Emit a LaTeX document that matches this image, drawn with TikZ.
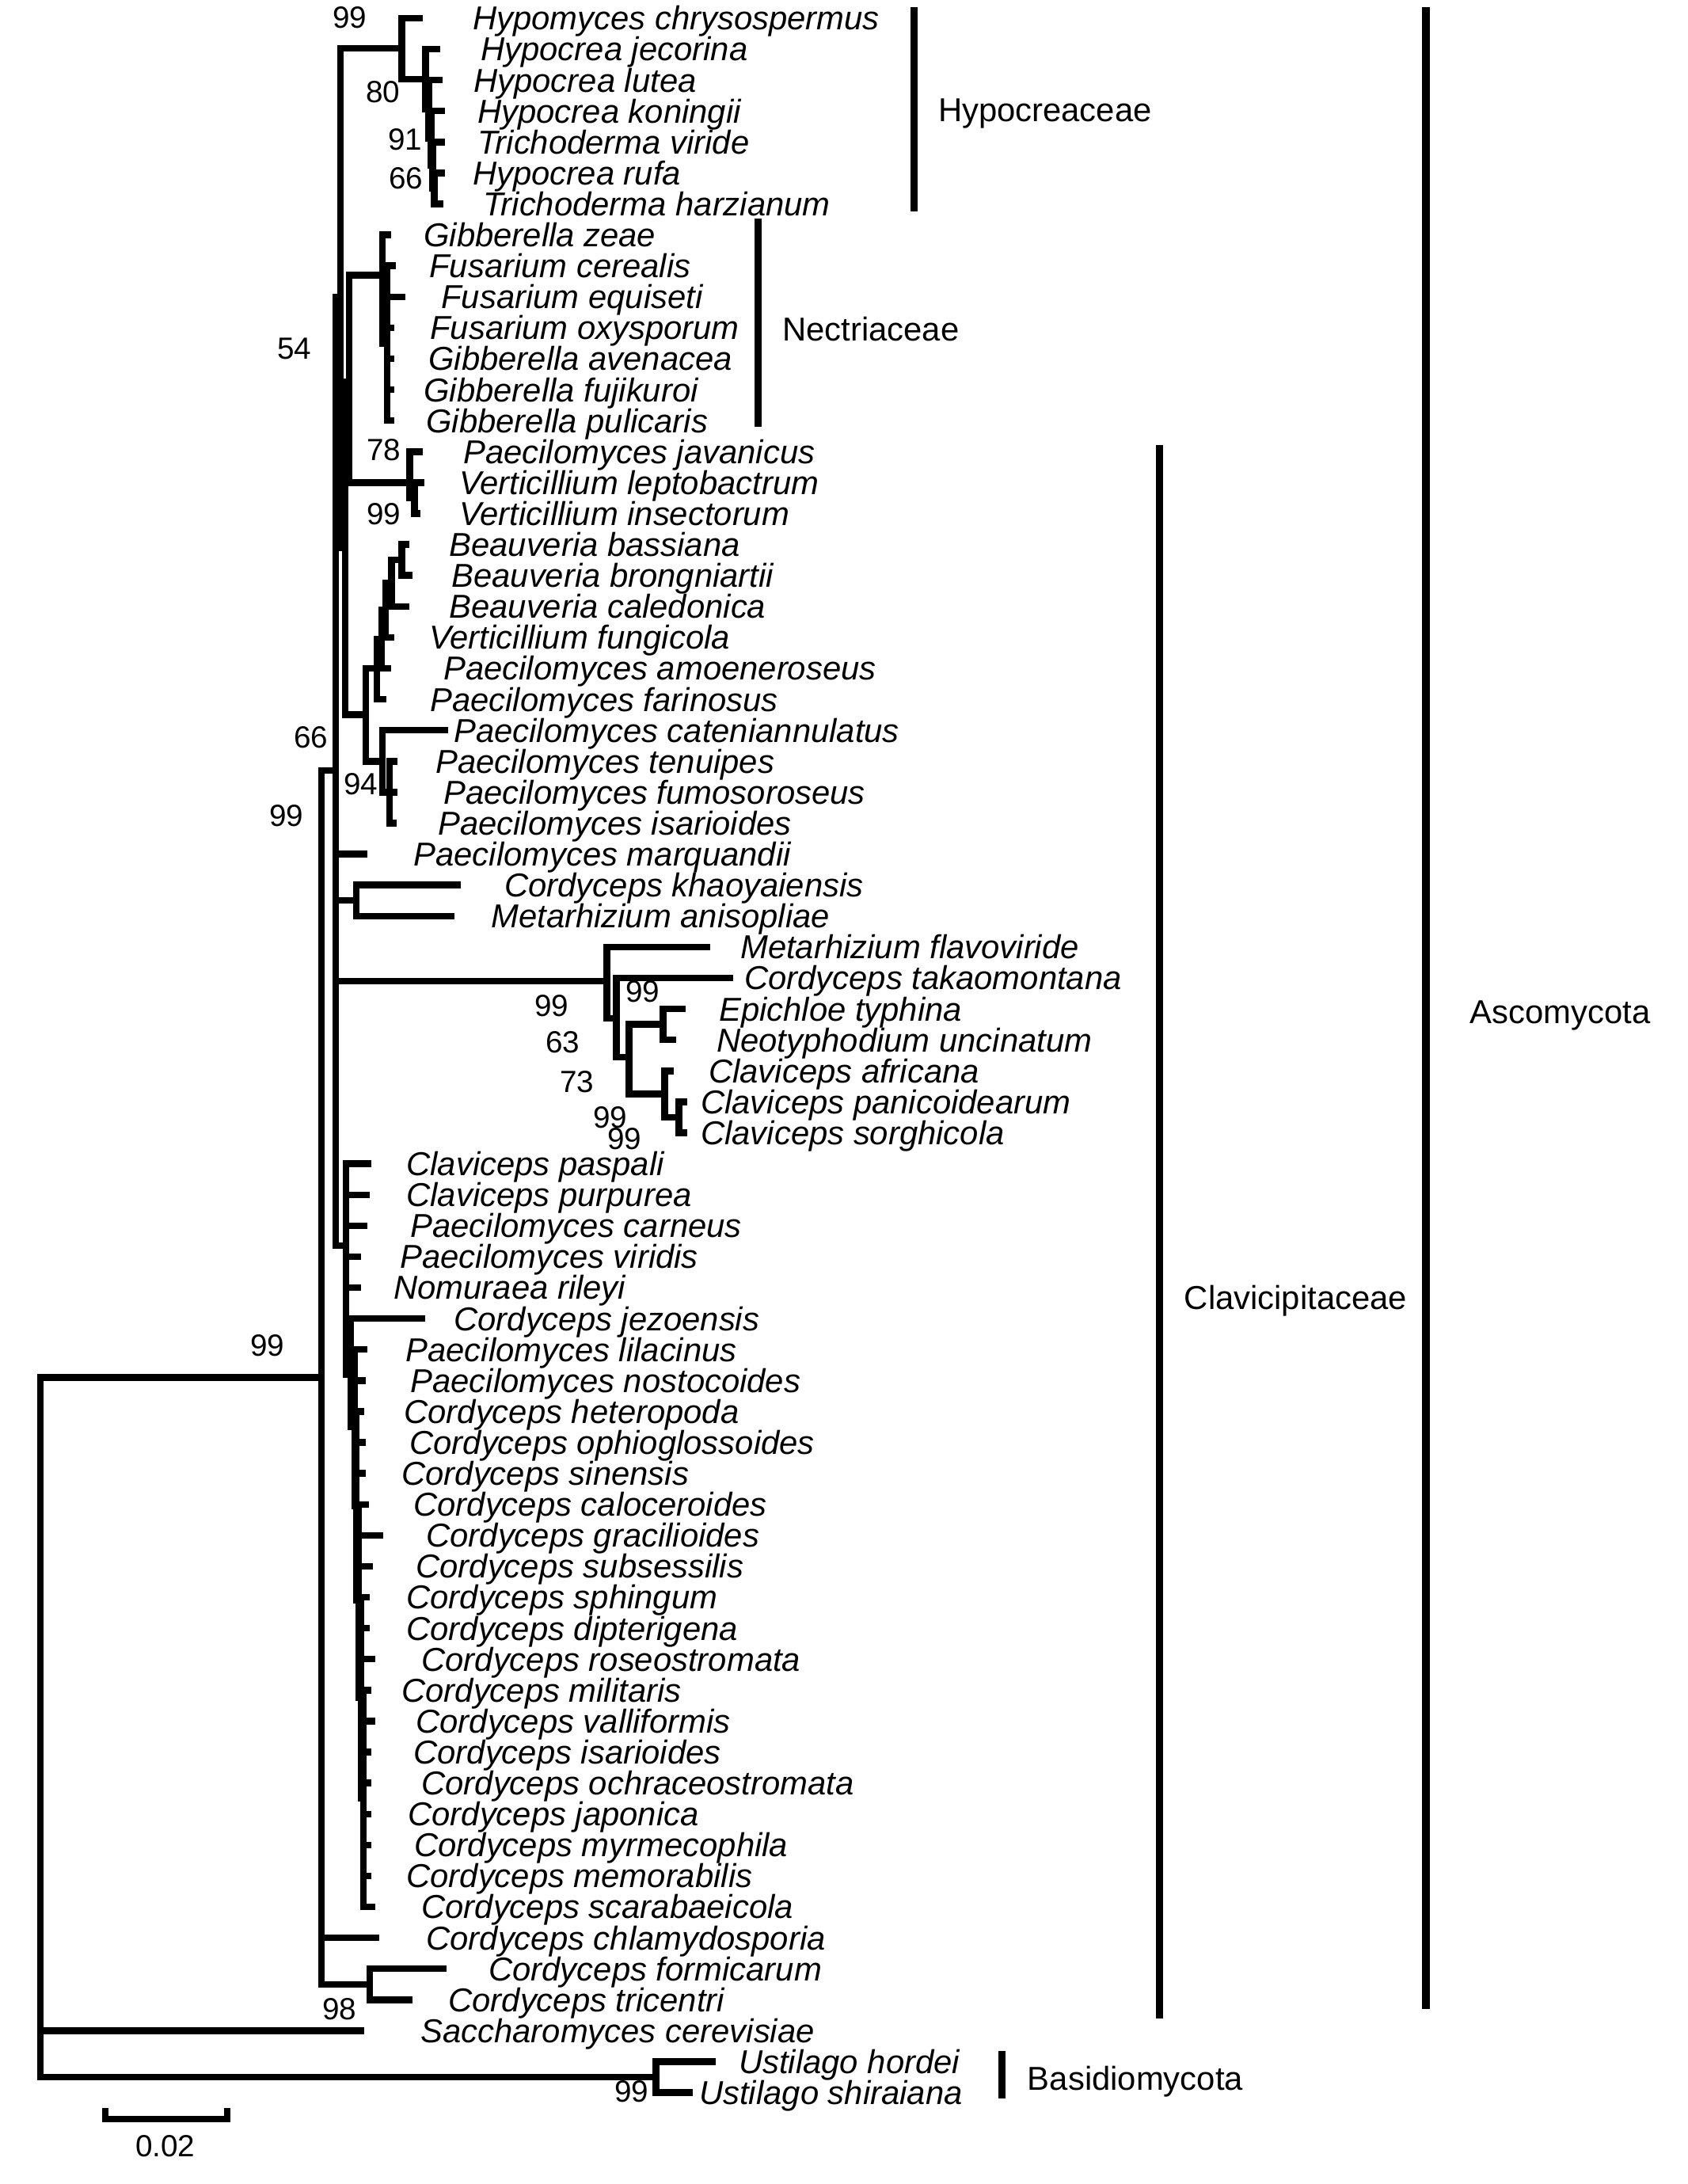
\documentclass[tikz,border=0pt]{standalone}
\usepackage{fontspec}
\setmainfont{Liberation Sans}
\begin{document}
\begin{tikzpicture}[x=0.01cm,y=-0.391cm,
 br/.style={line width=2.4pt, line cap=rect, line join=miter},
 grpbar/.style={line width=2.6pt},
 tx/.style={anchor=west, inner sep=0pt, font=\fontsize{11.9}{13}\selectfont\itshape, text height=8.5pt, text depth=0pt},
 bs/.style={inner sep=0pt, font=\fontsize{11}{13}\selectfont},
 grp/.style={anchor=west, inner sep=0pt, font=\fontsize{11.9}{13}\selectfont, text height=8.5pt, text depth=0pt}]
\fill[white] (0,0.4143) rectangle (2133,70.951);
\useasboundingbox (0,0.4143) rectangle (2133,70.951);

% taxon labels
\foreach \i/\x/\nm in {
1/597/Hypomyces chrysospermus, 2/607/Hypocrea jecorina, 3/598/Hypocrea lutea,
4/603/Hypocrea koningii, 5/603/Trichoderma viride, 6/597/Hypocrea rufa,
7/610/Trichoderma harzianum, 8/535/Gibberella zeae, 9/542/Fusarium cerealis,
10/557/Fusarium equiseti, 11/543/Fusarium oxysporum, 12/541/Gibberella avenacea,
13/535/Gibberella fujikuroi, 14/538/Gibberella pulicaris, 15/585/Paecilomyces javanicus,
16/580/Verticillium leptobactrum, 17/580/Verticillium insectorum, 18/567/Beauveria bassiana,
19/570/Beauveria brongniartii, 20/567/Beauveria caledonica, 21/542/Verticillium fungicola,
22/560/Paecilomyces amoeneroseus, 23/543/Paecilomyces farinosus, 24/573/Paecilomyces cateniannulatus,
25/550/Paecilomyces tenuipes, 26/560/Paecilomyces fumosoroseus, 27/553/Paecilomyces isarioides,
28/522/Paecilomyces marquandii, 29/637/Cordyceps khaoyaiensis, 30/620/Metarhizium anisopliae,
31/935/Metarhizium flavoviride, 32/940/Cordyceps takaomontana, 33/908/Epichloe typhina,
34/905/Neotyphodium uncinatum, 35/895/Claviceps africana, 36/885/Claviceps panicoidearum,
37/885/Claviceps sorghicola, 38/513/Claviceps paspali, 39/513/Claviceps purpurea,
40/518/Paecilomyces carneus, 41/505/Paecilomyces viridis, 42/497/Nomuraea rileyi,
43/573/Cordyceps jezoensis, 44/512/Paecilomyces lilacinus, 45/518/Paecilomyces nostocoides,
46/510/Cordyceps heteropoda, 47/517/Cordyceps ophioglossoides, 48/507/Cordyceps sinensis,
49/522/Cordyceps caloceroides, 50/538/Cordyceps gracilioides, 51/525/Cordyceps subsessilis,
52/513/Cordyceps sphingum, 53/513/Cordyceps dipterigena, 54/532/Cordyceps roseostromata,
55/507/Cordyceps militaris, 56/525/Cordyceps valliformis, 57/522/Cordyceps isarioides,
58/532/Cordyceps ochraceostromata, 59/515/Cordyceps japonica, 60/523/Cordyceps myrmecophila,
61/513/Cordyceps memorabilis, 62/532/Cordyceps scarabaeicola, 63/538/Cordyceps chlamydosporia,
64/617/Cordyceps formicarum, 65/566/Cordyceps tricentri, 66/531/Saccharomyces cerevisiae,
67/933/Ustilago hordei, 68/883/Ustilago shiraiana}
  \node[tx] (n\i) at (\x,\i) {\nm};

% tips
\foreach \i/\x in {1/530,2/552,3/555,4/558,5/558,6/558,7/556,8/490,9/496,10/508,11/494,12/494,13/494,14/494,
15/530,16/532,17/527,18/513,19/517,20/513,21/494,22/490,23/484,24/562,25/498,26/498,27/497,28/460,29/578,30/570,
31/893,32/922,33/862,34/850,35/847,36/864,37/864,38/465,39/463,40/460,41/452,42/452,43/533,44/460,45/458,
46/456,47/458,48/458,49/462,50/480,51/467,52/463,53/463,54/470,55/465,56/470,57/465,58/465,59/465,60/465,
61/465,62/470,63/475,64/560,65/517,66/456,67/900,68/871}
  \coordinate (t\i) at (\x,\i);

% internal nodes
\coordinate (R) at (51,44.9);
\coordinate (A) at (406,44.9);
\coordinate (U) at (829,67.5);
\coordinate (C66) at (424,25.3);
\coordinate (D) at (430,10.0);
\coordinate (H99) at (508,1.98);
\coordinate (H80) at (538,2.97);
\coordinate (HY) at (542,3.94);
\coordinate (HZ) at (545,4.875);
\coordinate (HW) at (547,5.75);
\coordinate (HV) at (549,6.5);
\coordinate (E) at (436,18.1);
\coordinate (E1) at (441,12.75);
\coordinate (N) at (483,9.3);
\coordinate (M) at (489,11.5);
\coordinate (P) at (518,16.0);
\coordinate (P2) at (524,16.5);
\coordinate (RR) at (462,23.5);
\coordinate (B1) at (476,22.0);
\coordinate (B2) at (482,21.06);
\coordinate (B3) at (487,20.1);
\coordinate (B4) at (495,19.25);
\coordinate (B5) at (508,18.5);
\coordinate (Q) at (483,25.0);
\coordinate (Q2) at (492,26);
\coordinate (L) at (450,29.5);
\coordinate (F) at (767,32.1);
\coordinate (G) at (779,33.3);
\coordinate (H) at (795,34.55);
\coordinate (I) at (838,33.5);
\coordinate (J) at (840,35.75);
\coordinate (K) at (858,36.5);
\coordinate (L1) at (437,40.65);
\coordinate (L2) at (443,44.8);
\coordinate (L3) at (448,46.5);
\coordinate (L4) at (450,49.06);
\coordinate (L5) at (453,52.1);
\coordinate (L6) at (456,55.25);
\coordinate (L7) at (459,58.5);
\coordinate (C98) at (467,64.5);

% branches
\foreach \p/\c in {R/A,R/t66,R/U,U/t67,U/t68,
A/C66,A/t63,A/C98,C98/t64,C98/t65,
C66/D,C66/t28,C66/L,C66/F,C66/L1,
D/H99,D/E,
H99/t1,H99/H80,H80/t2,H80/HY,HY/t3,HY/HZ,HZ/t4,HZ/HW,HW/t5,HW/HV,HV/t6,HV/t7,
E/E1,E/RR,E1/N,E1/P,
N/t8,N/M,M/t9,M/t10,M/t11,M/t12,M/t13,M/t14,
P/t15,P/P2,P2/t16,P2/t17,
RR/B1,RR/Q,B1/B2,B1/t23,B2/B3,B2/t22,B3/B4,B3/t21,B4/B5,B4/t20,B5/t18,B5/t19,
Q/t24,Q/Q2,Q2/t25,Q2/t26,Q2/t27,
L/t29,L/t30,
F/t31,F/G,G/t32,G/H,H/I,H/J,I/t33,I/t34,J/t35,J/K,K/t36,K/t37,
L1/t38,L1/t39,L1/t40,L1/t41,L1/t42,L1/L2,
L2/t43,L2/L3,L3/t44,L3/t45,L3/L4,L4/t46,L4/t47,L4/t48,L4/L5,
L5/t49,L5/t50,L5/t51,L5/L6,L6/t52,L6/t53,L6/t54,L6/L7,
L7/t55,L7/t56,L7/t57,L7/t58,L7/t59,L7/t60,L7/t61,L7/t62}
  \draw[br] (\p) |- (\c);

% bootstrap values
\foreach \v/\x/\y [count=\k] in {99/442/0.98, 80/484/3.39, 91/512/4.92, 66/513/6.17,
54/372/11.67, 78/485/14.94, 99/485/17.01, 66/393/24.23, 94/456/25.73, 99/362/26.76,
99/697/32.9, 99/812/32.44, 63/711/34.07, 73/729/35.35, 99/771/36.5, 99/789/37.19,
99/338/43.87, 98/429/65.3, 99/798/67.96}
  \node[bs] (b\k) at (\x,\y) {\v};

% group bars and labels
\coordinate (hyT) at (1155,0.65);  \coordinate (hyB) at (1155,7.24);
\coordinate (neT) at (958,7.48);   \coordinate (neB) at (958,14.2);
\coordinate (clT) at (1465,14.8);  \coordinate (clB) at (1465,65.6);
\coordinate (asT) at (1802,0.65);  \coordinate (asB) at (1802,65.3);
\coordinate (baT) at (1266,66.65); \coordinate (baB) at (1266,68.2);
\draw[grpbar] (hyT) -- (hyB);
\draw[grpbar] (neT) -- (neB);
\draw[grpbar] (clT) -- (clB);
\draw[grpbar] (asT) -- (asB);
\draw[grpbar] (baT) -- (baB);
\node[grp] (ghy) at (1185,3.97) {Hypocreaceae};
\node[grp] (gne) at (988,11.03) {Nectriaceae};
\node[grp] (gcl) at (1496,42.33) {Clavicipitaceae};
\node[grp] (gas) at (1857,33.1) {Ascomycota};
\node[grp] (gba) at (1298,67.55) {Basidiomycota};

% scale bar
\coordinate (sbL) at (133,68.85); \coordinate (sbR) at (287,68.85);
\coordinate (sbLt) at (133,68.5); \coordinate (sbRt) at (287,68.5);
\draw[line width=2.2pt] (sbLt) -- (sbL) -- (sbR) -- (sbRt);
\node[bs] (sbl) at (209,69.72) {0.02};
\end{tikzpicture}
\end{document}
